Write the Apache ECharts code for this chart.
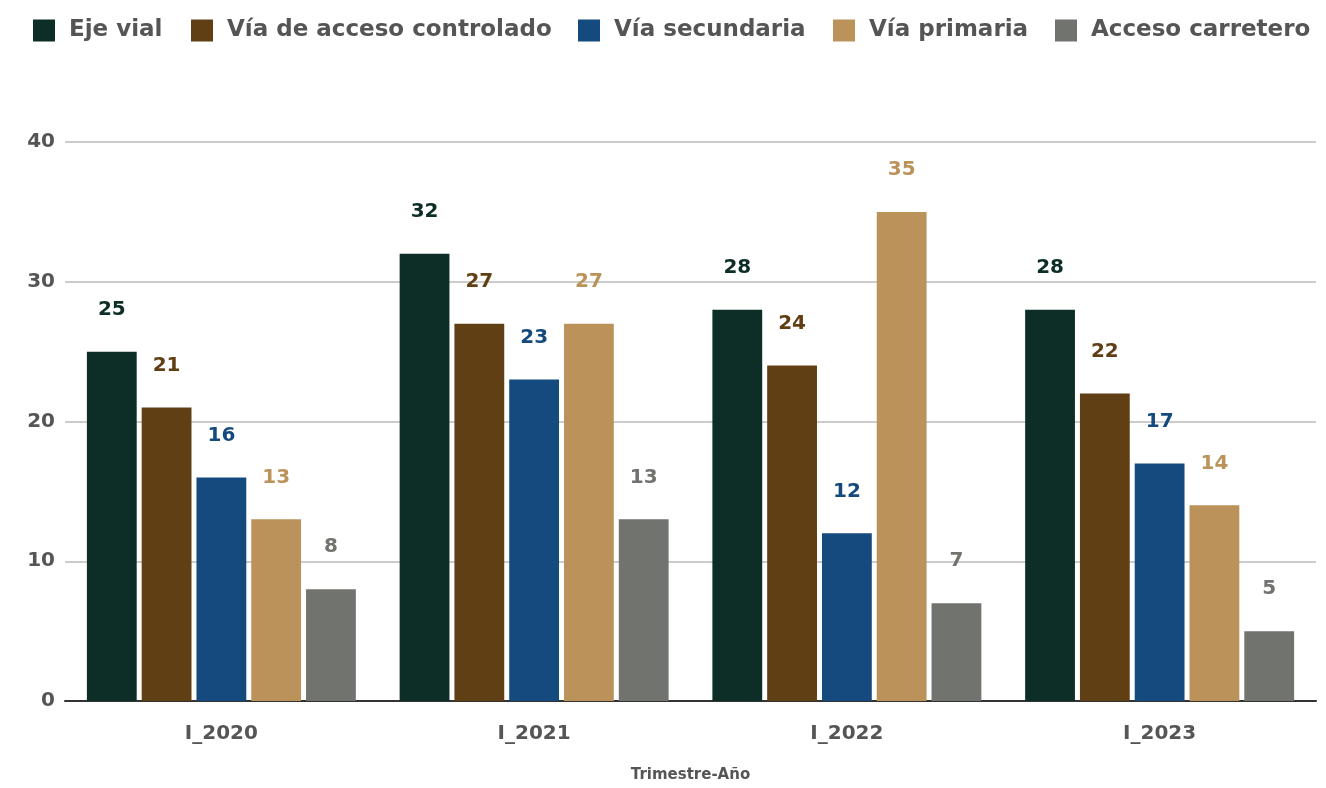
<!DOCTYPE html>
<html><head><meta charset="utf-8">
<script src="https://cdn.jsdelivr.net/npm/echarts@6/dist/echarts.min.js"></script>
<style>html,body{margin:0;padding:0;background:#fff}#c{width:1326px;height:788px}</style>
</head><body><div id="c"></div>
<script>
const categories = ['I_2020','I_2021','I_2022','I_2023'];
const seriesNames = ['Eje vial','Vía de acceso controlado','Vía secundaria','Vía primaria','Acceso carretero'];
const ejeVial = [25,32,28,28];
const accesoControlado = [21,27,24,22];
const secundaria = [16,23,12,17];
const primaria = [13,27,35,14];
const carretero = [8,13,7,5];
const yTicks = [0,10,20,30,40];
const colors = ['#0d2e27','#613f14','#154a7e','#bb925a','#70736e'];
const values = [ejeVial, accesoControlado, secundaria, primaria, carretero];
const legendLeft = [28, 186, 573, 828, 1050];
const font = '"DejaVu Sans", sans-serif';
const chart = echarts.init(document.getElementById('c'));
chart.setOption({
  animation:false,
  textStyle:{fontFamily:font},
  legend: seriesNames.map((n,i)=>({data:[n],top:14,left:legendLeft[i],itemWidth:22,itemHeight:22,icon:'rect',
    textStyle:{fontSize:23,fontWeight:'bold',color:'#555',fontFamily:font,padding:[0,0,0,9]}})),
  grid:{left:65,right:10,top:142,bottom:87,containLabel:false,outerBoundsMode:'none'},
  xAxis:{type:'category',data:categories,name:'Trimestre-Año',nameLocation:'middle',nameGap:67,
    nameTextStyle:{fontSize:15,fontWeight:'bold',color:'#555'},
    axisLine:{lineStyle:{color:'#333',width:2}},axisTick:{show:false},
    axisLabel:{fontSize:20,fontWeight:'bold',color:'#555',margin:23}},
  yAxis:{type:'value',min:yTicks[0],max:yTicks[yTicks.length-1],interval:10,
    axisLabel:{fontSize:20,fontWeight:'bold',color:'#555',margin:10},
    splitLine:{lineStyle:{color:'#ccc',width:2}},axisLine:{show:false}},
  series: seriesNames.map((n,i)=>({
    name:n,type:'bar',data:values[i],barGap:'10%',barCategoryGap:'14%',
    itemStyle:{color:colors[i]},
    label:{show:true,position:'top',distance:32,fontSize:20,fontWeight:'bold',color:colors[i]}
  }))
});
</script></body></html>
